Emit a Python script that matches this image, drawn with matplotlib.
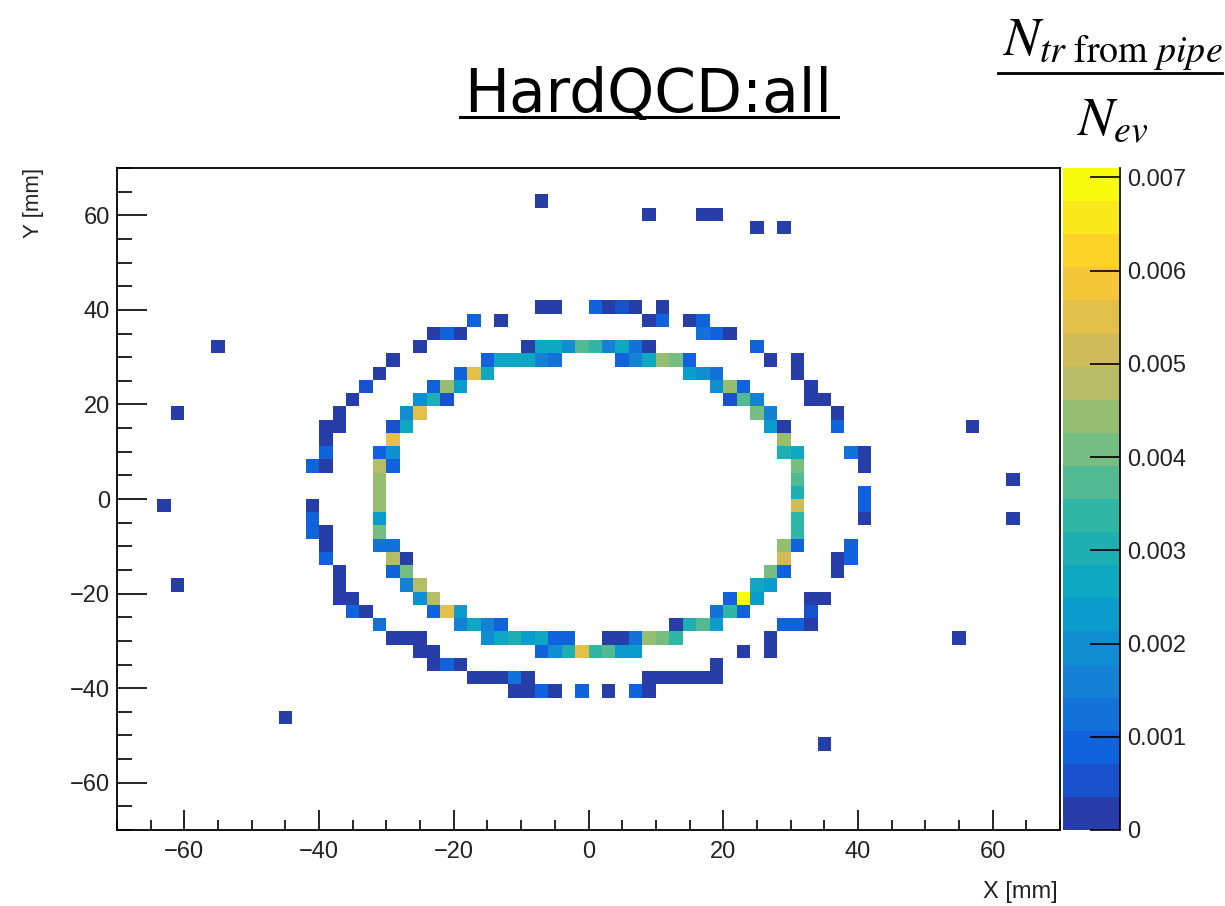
import numpy as np
import matplotlib
matplotlib.use("Agg")
import matplotlib.pyplot as plt
from matplotlib.colors import LinearSegmentedColormap, ListedColormap, Normalize
from matplotlib.lines import Line2D
from matplotlib.ticker import MultipleLocator

# ---------------- data (cell centres in mm, value = N_tr from pipe / N_ev) -------------
x_mm = [
    -7,
    9, 17, 19,
    25, 29,
    -7, -5, 1, 3, 5, 7, 11,
    -17, -13, 9, 11, 15, 17,
    -23, -21, -19, 17, 19, 21,
    -55, -25, -9, -7, -5, -3, -1, 1, 3, 5, 7, 9, 25,
    -29, -15, -13, -11, -9, -7, -5, 5, 7, 9, 11, 13, 15, 27, 31,
    -31, -19, -17, -15, 15, 17, 19, 31,
    -33, -23, -21, -19, 19, 21, 23, 33,
    -35, -25, -23, -21, 21, 23, 25, 33, 35,
    -61, -37, -27, -25, 25, 27, 37,
    -39, -37, -29, -27, 27, 29, 37, 57,
    -39, -29, 29,
    -39, -31, -29, 29, 31, 39, 41,
    -41, -39, -31, -29, 31, 41,
    -31, 31, 63,
    -31, 31, 41,
    -63, -41, -31, 31, 41,
    -41, -31, 31, 41, 63,
    -41, -39, -31, 31,
    -39, -31, -29, 29, 31, 39,
    -39, -29, -27, 29, 37, 39,
    -37, -29, -27, 27, 29, 37,
    -61, -37, -27, -25, 25, 27,
    -37, -35, -25, -23, 21, 23, 25, 33, 35,
    -35, -33, -23, -21, -19, 19, 21, 23, 33,
    -31, -19, -17, -15, -13, 13, 15, 17, 19, 29, 31, 33,
    -29, -27, -25, -15, -13, -11, -9, -7, -5, -3, 3, 5, 7, 9, 11, 13, 27, 55,
    -25, -23, -7, -5, -3, -1, 1, 3, 5, 7, 23, 27,
    -23, -21, -19, 19,
    -17, -15, -13, -11, -9, 9, 11, 13, 15, 17, 19,
    -11, -9, -7, -5, -1, 3, 7, 9,
    -45,
    35,
]
y_mm = (
    [63.0] * 1 + [60.2] * 3 + [57.4] * 2 + [40.6] * 7 + [37.8] * 6 + [35.0] * 6
    + [32.2] * 13 + [29.4] * 15 + [26.6] * 8 + [23.8] * 8 + [21.0] * 9 + [18.2] * 7
    + [15.4] * 8 + [12.6] * 3 + [9.8] * 7 + [7.0] * 6 + [4.2] * 3 + [1.4] * 3
    + [-1.4] * 5 + [-4.2] * 5 + [-7.0] * 4 + [-9.8] * 6 + [-12.6] * 6 + [-15.4] * 6
    + [-18.2] * 6 + [-21.0] * 9 + [-23.8] * 9 + [-26.6] * 12 + [-29.4] * 18
    + [-32.2] * 12 + [-35.0] * 4 + [-37.8] * 11 + [-40.6] * 8 + [-46.2] * 1 + [-51.8] * 1
)
flux = [
    .0002,
    .0002, .0002, .0002,
    .0002, .0002,
    .0002, .0002, .0009, .0002, .0005, .0002, .0002,
    .0009, .0002, .0002, .0009, .0002, .0009,
    .0002, .0009, .0002, .0012, .0009, .0002,
    .0002, .0002, .0002, .0027, .0027, .0019, .0037, .0034, .0016, .0027, .0012, .0002, .0009,
    .0002, .0009, .0027, .0027, .0027, .0016, .0012, .0009, .0016, .0027, .0044, .0041, .0009, .0002, .0002,
    .0002, .0009, .0055, .0027, .0023, .0019, .0012, .0002,
    .0005, .0009, .0044, .0023, .0019, .0044, .0009, .0002,
    .0002, .0019, .0030, .0005, .0005, .0037, .0016, .0002, .0002,
    .0002, .0002, .0019, .0055, .0041, .0016, .0002,
    .0002, .0002, .0005, .0027, .0023, .0002, .0009, .0002,
    .0002, .0055, .0044,
    .0009, .0009, .0019, .0030, .0027, .0012, .0002,
    .0009, .0002, .0048, .0009, .0041, .0002,
    .0044, .0037, .0002,
    .0044, .0030, .0009,
    .0002, .0002, .0044, .0051, .0009,
    .0009, .0023, .0034, .0002, .0002,
    .0009, .0002, .0041, .0034,
    .0002, .0012, .0012, .0044, .0009, .0009,
    .0009, .0048, .0002, .0051, .0002, .0009,
    .0002, .0009, .0041, .0041, .0009, .0002,
    .0002, .0002, .0016, .0048, .0027, .0023,
    .0002, .0002, .0019, .0048, .0009, .0071, .0023, .0002, .0002,
    .0009, .0002, .0009, .0055, .0023, .0012, .0034, .0009, .0005,
    .0012, .0016, .0027, .0016, .0009, .0002, .0030, .0037, .0023, .0009, .0009, .0002,
    .0002, .0002, .0002, .0019, .0027, .0030, .0023, .0027, .0009, .0009, .0002, .0002, .0012, .0044, .0041, .0034, .0002, .0002,
    .0002, .0002, .0009, .0019, .0030, .0055, .0034, .0037, .0023, .0023, .0002, .0002,
    .0002, .0009, .0002, .0002,
    .0002, .0002, .0002, .0012, .0002, .0002, .0002, .0002, .0002, .0002, .0002,
    .0002, .0002, .0009, .0002, .0009, .0002, .0009, .0002,
    .0002,
    .0002,
]

x_edges = np.linspace(-70, 70, 71)   # 70 bins of 2 mm
y_edges = np.linspace(-70, 70, 51)   # 50 bins of 2.8 mm
z_max = 0.0071
n_levels = 20
x_ticks = [-60, -40, -20, 0, 20, 40, 60]
y_ticks = [-60, -40, -20, 0, 20, 40, 60]
z_ticks = [0, 0.001, 0.002, 0.003, 0.004, 0.005, 0.006, 0.007]
z_ticklabels = ["0", "0.001", "0.002", "0.003", "0.004", "0.005", "0.006", "0.007"]

# ---------------- ROOT kBird palette, 20 contours ----------------
stops = [0.0, 0.125, 0.25, 0.375, 0.5, 0.625, 0.75, 0.875, 1.0]
red = [0.2082, 0.0592, 0.0780, 0.0232, 0.1802, 0.5301, 0.8186, 0.9956, 0.9764]
green = [0.1664, 0.3599, 0.5041, 0.6419, 0.7178, 0.7492, 0.7328, 0.7862, 0.9832]
blue = [0.5293, 0.8684, 0.8385, 0.7914, 0.6425, 0.4662, 0.3499, 0.1968, 0.0539]
bird = LinearSegmentedColormap.from_list("bird", list(zip(stops, zip(red, green, blue))))
cmap = ListedColormap([bird(min(1.0, (k + 0.99) / n_levels)) for k in range(n_levels)])
norm = Normalize(vmin=0, vmax=z_max)

# ---------------- figure ----------------
W, H = 1225, 906
fig = plt.figure(figsize=(W / 100, H / 100), dpi=100)
fig.patch.set_facecolor("white")

def fx(px):
    return px / W

def fy(py):
    return 1 - py / H

ax_l, ax_r, ax_t, ax_b = 117, 1060, 168, 830
ax = fig.add_axes([fx(ax_l), fy(ax_b), fx(ax_r - ax_l), (ax_b - ax_t) / H])

counts, _, _ = np.histogram2d(x_mm, y_mm, bins=[x_edges, y_edges], weights=flux)
grid = np.ma.masked_less_equal(counts.T, 0)
mesh = ax.pcolormesh(x_edges, y_edges, grid, cmap=cmap, norm=norm,
                     edgecolors="none", antialiased=False)

ax.set_xlim(-70, 70)
ax.set_ylim(-70, 70)
ax.set_xticks(x_ticks)
ax.set_yticks(y_ticks)
ax.xaxis.set_minor_locator(MultipleLocator(5))
ax.yaxis.set_minor_locator(MultipleLocator(5))
tick_font = "Liberation Sans"
ax.tick_params(axis="both", which="both", direction="in", top=False, right=False,
               width=1.2, color="black")
ax.tick_params(axis="x", which="major", length=14.4, pad=8)
ax.tick_params(axis="x", which="minor", length=7.2)
ax.tick_params(axis="y", which="major", length=21.6, pad=5)
ax.tick_params(axis="y", which="minor", length=10.8)
for lab in ax.get_xticklabels() + ax.get_yticklabels():
    lab.set_fontfamily(tick_font)
    lab.set_fontsize(17)
    lab.set_color("#222222")
for sp in ax.spines.values():
    sp.set_linewidth(1.3)
    sp.set_color("black")

# axis titles (ROOT style: aligned at the axis ends)
fig.text(fx(1058), fy(903), "X [mm]", ha="right", va="bottom",
         fontfamily=tick_font, fontsize=17, color="#222222")
fig.text(fx(33), fy(168), "Y [mm]", ha="center", va="top", rotation=90,
         fontfamily=tick_font, fontsize=16, color="#222222")

# ---------------- colour bar (palette axis) ----------------
cax = fig.add_axes([fx(1063), fy(ax_b), fx(1120 - 1063), (ax_b - ax_t) / H])
cb = fig.colorbar(mesh, cax=cax, ticks=z_ticks)
cb.outline.set_visible(False)
cax.set_yticklabels(z_ticklabels)
cax.tick_params(axis="y", which="major", direction="in", length=21.6, width=1.2,
                right=True, left=False, labelright=True, labelleft=False, pad=5,
                color="black")
cax.tick_params(axis="y", which="minor", length=0)
cax.minorticks_off()
for lab in cax.get_yticklabels():
    lab.set_fontfamily(tick_font)
    lab.set_fontsize(17)
    lab.set_color("#222222")
cax.plot([1, 1], [0, 1], transform=cax.transAxes, color="black", lw=1.2, clip_on=False)

# ---------------- title ----------------
fig.text(fx(648), fy(112), "HardQCD:all", ha="center", va="baseline",
         fontfamily="DejaVu Sans", fontsize=43, color="black")
fig.add_artist(Line2D([fx(460), fx(838)], [fy(117), fy(117)], color="black", lw=2.2))

# ---------------- z-axis title: N_tr from pipe / N_ev ----------------
plt.rcParams["mathtext.fontset"] = "stix"
fig.text(fx(1112), fy(56), r"$N_{tr\ \mathrm{from}\ pipe}$", ha="center", va="baseline",
         fontsize=39, color="black")
fig.add_artist(Line2D([fx(998), fx(1222)], [fy(73), fy(73)], color="black", lw=2.0))
fig.text(fx(1112), fy(135), r"$N_{ev}$", ha="center", va="baseline",
         fontsize=39, color="black")

fig.savefig("out.png", dpi=100, facecolor="white")
